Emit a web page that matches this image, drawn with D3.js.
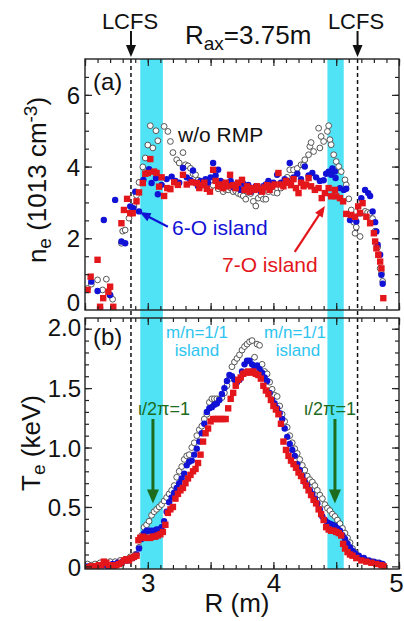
<!DOCTYPE html>
<html><head><meta charset="utf-8">
<script src="https://cdn.jsdelivr.net/npm/d3@7"></script>
<style>
html,body{margin:0;padding:0;background:#fff}
svg{display:block;font-family:"Liberation Sans",Arial,sans-serif}
</style>
</head><body>
<svg id="chart" width="404" height="621"></svg>
<script>
// Electron density profiles, [R (m), ne (1e13 cm^-3)]
const neNoRmp = [[2.52,0.60],[2.55,0.72],[2.60,0.84],[2.64,0.56],[2.67,0.86],[2.70,0.41],[2.72,0.30],[2.79,1.86],[2.80,2.20],[2.82,2.23],[2.85,2.56],[2.87,2.75],[2.89,2.90],[2.91,3.20],[2.93,3.56],[2.96,3.99],[2.98,4.24],[3.00,4.60],[3.02,5.14],[3.04,4.52],[3.065,5.00],[3.08,4.72],[3.13,5.12],[3.16,4.98],[3.18,4.70],[3.20,4.39],[3.23,4.19],[3.25,4.10],[3.28,4.39],[3.30,4.05],[3.32,4.02],[3.34,3.95],[3.36,3.80],[3.38,3.77],[3.40,3.62],[3.42,3.55],[3.44,3.50],[3.46,3.52],[3.48,3.45],[3.50,3.42],[3.52,3.48],[3.54,3.60],[3.56,3.38],[3.58,3.42],[3.60,3.30],[3.62,3.36],[3.64,3.35],[3.66,3.40],[3.68,3.30],[3.70,3.32],[3.72,3.25],[3.74,3.22],[3.76,3.18],[3.78,3.09],[3.80,3.28],[3.82,3.25],[3.84,3.03],[3.86,2.90],[3.88,3.12],[3.90,3.20],[3.92,3.09],[3.94,3.09],[3.96,3.30],[3.98,3.35],[4.00,3.28],[4.03,3.26],[4.06,3.40],[4.09,3.55],[4.11,3.70],[4.13,3.91],[4.16,3.91],[4.19,3.95],[4.22,4.05],[4.24,4.05],[4.25,4.19],[4.28,4.33],[4.29,4.56],[4.30,4.67],[4.32,4.42],[4.36,5.07],[4.37,4.52],[4.38,4.84],[4.40,4.70],[4.43,4.98],[4.44,5.14],[4.45,4.75],[4.46,4.61],[4.48,4.33],[4.50,4.14],[4.52,4.00],[4.54,3.86],[4.57,3.63],[4.58,3.49],[4.60,3.10],[4.62,2.79],[4.64,2.45],[4.65,2.14],[4.66,2.31],[4.69,2.05],[4.73,2.75],[4.75,2.72],[4.77,2.70],[4.79,2.55],[4.81,2.20],[4.83,1.75],[4.85,1.16],[4.86,1.02],[4.87,0.80]];
const ne6O = [[2.55,0.79],[2.60,0.53],[2.62,0.06],[2.70,0.42],[2.65,2.51],[2.74,3.07],[2.79,1.91],[2.82,1.86],[2.86,2.89],[2.885,2.84],[2.93,2.75],[2.90,3.30],[2.965,3.63],[3.01,3.93],[3.03,3.54],[3.065,3.68],[3.08,3.23],[3.11,3.49],[3.15,3.65],[3.19,3.72],[3.22,3.60],[3.25,3.55],[3.28,3.96],[3.31,3.70],[3.34,3.62],[3.36,3.89],[3.38,3.55],[3.40,3.45],[3.42,3.60],[3.44,3.52],[3.46,3.65],[3.48,3.55],[3.50,3.70],[3.52,4.10],[3.54,3.75],[3.56,3.91],[3.58,3.60],[3.60,3.50],[3.62,3.45],[3.64,3.55],[3.66,3.60],[3.68,3.42],[3.70,3.50],[3.72,3.40],[3.74,3.35],[3.76,3.52],[3.78,3.40],[3.80,3.49],[3.82,3.30],[3.84,3.38],[3.86,3.45],[3.88,3.40],[3.90,3.32],[3.92,3.45],[3.94,3.50],[3.96,3.60],[3.98,3.45],[4.00,3.55],[4.03,3.77],[4.06,3.55],[4.09,3.65],[4.11,3.60],[4.13,4.10],[4.16,3.70],[4.19,3.80],[4.22,3.65],[4.25,4.00],[4.28,3.75],[4.31,3.82],[4.34,3.70],[4.37,3.60],[4.40,3.62],[4.42,3.80],[4.44,3.86],[4.46,3.77],[4.47,3.95],[4.49,3.86],[4.495,3.68],[4.53,3.40],[4.56,3.35],[4.58,3.38],[4.61,2.51],[4.63,2.60],[4.66,2.47],[4.69,2.70],[4.70,3.12],[4.73,3.35],[4.755,3.26],[4.77,3.18],[4.79,2.75],[4.81,2.45],[4.82,2.19],[4.83,1.82],[4.85,1.54],[4.86,0.98],[4.87,0.73]];
const ne7O = [[2.52,0.56],[2.545,0.93],[2.60,1.40],[2.62,0.09],[2.645,0.33],[2.686,0.51],[2.70,0.65],[2.725,0.09],[2.79,2.42],[2.81,2.79],[2.835,3.10],[2.86,2.70],[2.88,2.70],[2.91,3.03],[2.93,3.28],[2.96,3.54],[2.98,3.80],[3.00,3.82],[3.02,4.21],[3.05,3.86],[3.07,3.82],[3.09,3.44],[3.11,3.70],[3.13,3.18],[3.155,3.40],[3.18,3.37],[3.21,3.56],[3.24,3.49],[3.28,3.77],[3.31,3.50],[3.35,3.56],[3.39,3.54],[3.41,3.40],[3.43,3.48],[3.45,3.55],[3.47,3.38],[3.495,3.30],[3.52,3.91],[3.54,3.60],[3.56,3.45],[3.58,3.50],[3.60,3.40],[3.62,3.55],[3.64,3.45],[3.655,3.77],[3.68,3.48],[3.70,3.40],[3.72,3.55],[3.75,3.63],[3.77,3.35],[3.79,3.45],[3.81,3.30],[3.83,3.40],[3.85,3.35],[3.87,3.45],[3.89,3.38],[3.91,3.30],[3.93,3.42],[3.95,3.48],[3.97,3.35],[3.99,3.45],[4.01,3.50],[4.04,3.82],[4.06,3.50],[4.08,3.45],[4.10,3.60],[4.12,3.55],[4.14,3.48],[4.16,3.65],[4.18,3.40],[4.20,3.26],[4.22,3.55],[4.24,3.45],[4.26,3.50],[4.28,3.68],[4.30,3.45],[4.33,3.35],[4.36,3.40],[4.385,3.12],[4.41,3.26],[4.44,3.40],[4.46,3.17],[4.49,3.35],[4.50,3.17],[4.53,3.12],[4.555,3.03],[4.58,2.68],[4.62,2.65],[4.65,2.60],[4.675,2.89],[4.69,2.70],[4.71,2.98],[4.74,2.60],[4.77,2.42],[4.80,2.14],[4.81,1.91],[4.82,1.72],[4.835,1.54],[4.85,1.35],[4.86,1.16],[4.875,0.33]];

// Electron temperature profiles, [R (m), Te (keV)]
const teNoRmp = [[2.52,0.02],[2.55,0.01],[2.58,0.02],[2.62,0.03],[2.66,0.03],[2.70,0.04],[2.74,0.04],[2.78,0.05],[2.82,0.06],[2.86,0.08],[2.90,0.10],[2.93,0.16],[2.95,0.26],[2.97,0.33],[2.99,0.35],[3.01,0.38],[3.03,0.43],[3.05,0.46],[3.07,0.48],[3.09,0.50],[3.11,0.52],[3.13,0.55],[3.15,0.58],[3.17,0.61],[3.19,0.64],[3.21,0.68],[3.23,0.75],[3.25,0.80],[3.27,0.84],[3.29,0.90],[3.31,0.93],[3.33,0.94],[3.35,1.00],[3.37,1.04],[3.39,1.10],[3.41,1.15],[3.43,1.18],[3.45,1.24],[3.47,1.28],[3.49,1.38],[3.51,1.41],[3.53,1.41],[3.55,1.41],[3.57,1.41],[3.59,1.42],[3.61,1.46],[3.63,1.52],[3.65,1.58],[3.67,1.68],[3.69,1.72],[3.71,1.75],[3.73,1.78],[3.75,1.82],[3.77,1.85],[3.79,1.87],[3.81,1.89],[3.83,1.90],[3.85,1.76],[3.87,1.87],[3.89,1.86],[3.91,1.70],[3.93,1.64],[3.95,1.62],[3.97,1.55],[3.99,1.49],[4.01,1.44],[4.03,1.43],[4.05,1.35],[4.07,1.28],[4.09,1.22],[4.11,1.17],[4.13,1.10],[4.15,1.04],[4.17,0.99],[4.19,0.95],[4.21,0.90],[4.23,0.85],[4.25,0.81],[4.27,0.76],[4.29,0.73],[4.31,0.71],[4.33,0.68],[4.35,0.64],[4.37,0.60],[4.39,0.57],[4.41,0.52],[4.43,0.49],[4.45,0.47],[4.47,0.44],[4.49,0.42],[4.51,0.39],[4.53,0.36],[4.55,0.32],[4.57,0.28],[4.59,0.24],[4.61,0.20],[4.63,0.15],[4.65,0.12],[4.67,0.09],[4.70,0.07],[4.74,0.05],[4.78,0.04],[4.82,0.03],[4.86,0.02]];
const te6O = [[2.52,0.00],[2.56,-0.01],[2.60,0.00],[2.64,0.01],[2.68,0.00],[2.72,0.02],[2.76,0.03],[2.80,0.04],[2.84,0.05],[2.88,0.07],[2.91,0.10],[2.93,0.15],[2.95,0.23],[2.97,0.28],[2.99,0.30],[3.01,0.30],[3.03,0.30],[3.05,0.30],[3.07,0.31],[3.09,0.31],[3.11,0.33],[3.13,0.38],[3.15,0.46],[3.17,0.54],[3.19,0.58],[3.21,0.62],[3.23,0.66],[3.25,0.70],[3.27,0.74],[3.29,0.78],[3.31,0.85],[3.33,0.88],[3.35,0.89],[3.37,0.94],[3.39,0.99],[3.41,1.05],[3.43,1.12],[3.45,1.20],[3.47,1.30],[3.49,1.33],[3.51,1.34],[3.53,1.36],[3.55,1.37],[3.57,1.40],[3.59,1.45],[3.61,1.50],[3.63,1.56],[3.65,1.61],[3.67,1.60],[3.69,1.57],[3.71,1.55],[3.73,1.57],[3.75,1.64],[3.77,1.70],[3.79,1.73],[3.81,1.73],[3.83,1.70],[3.85,1.68],[3.87,1.69],[3.89,1.66],[3.91,1.63],[3.93,1.59],[3.95,1.56],[3.97,1.46],[3.99,1.40],[4.01,1.37],[4.03,1.33],[4.05,1.29],[4.07,1.24],[4.09,1.16],[4.11,1.09],[4.13,1.03],[4.15,0.98],[4.17,0.93],[4.19,0.86],[4.21,0.81],[4.23,0.76],[4.25,0.71],[4.27,0.68],[4.29,0.64],[4.31,0.61],[4.33,0.57],[4.35,0.53],[4.37,0.48],[4.39,0.42],[4.41,0.39],[4.43,0.37],[4.45,0.36],[4.47,0.35],[4.49,0.34],[4.51,0.32],[4.53,0.30],[4.55,0.26],[4.57,0.23],[4.59,0.19],[4.61,0.16],[4.63,0.13],[4.65,0.11],[4.68,0.09],[4.72,0.07],[4.76,0.05],[4.80,0.04],[4.84,0.03],[4.87,0.02]];
const te7O = [[2.51,-0.01],[2.53,-0.01],[2.55,0.00],[2.57,0.00],[2.59,0.00],[2.61,0.01],[2.63,0.01],[2.65,0.04],[2.67,0.03],[2.69,0.01],[2.71,0.01],[2.73,0.00],[2.75,0.01],[2.77,0.02],[2.79,0.03],[2.81,0.05],[2.83,0.06],[2.85,0.05],[2.87,0.07],[2.89,0.08],[2.91,0.09],[2.925,0.22],[2.94,0.24],[2.96,0.25],[2.98,0.24],[3.00,0.24],[3.02,0.24],[3.04,0.25],[3.06,0.25],[3.08,0.26],[3.10,0.27],[3.12,0.29],[3.14,0.35],[3.16,0.45],[3.18,0.48],[3.20,0.50],[3.22,0.57],[3.24,0.61],[3.26,0.64],[3.28,0.66],[3.30,0.70],[3.32,0.74],[3.34,0.77],[3.36,0.80],[3.38,0.82],[3.40,0.87],[3.42,0.94],[3.44,1.05],[3.46,1.12],[3.48,1.16],[3.50,1.22],[3.52,1.24],[3.54,1.24],[3.56,1.24],[3.58,1.24],[3.60,1.24],[3.62,1.24],[3.64,1.33],[3.66,1.41],[3.68,1.46],[3.70,1.52],[3.72,1.57],[3.74,1.59],[3.76,1.62],[3.78,1.63],[3.80,1.64],[3.82,1.63],[3.84,1.64],[3.86,1.62],[3.88,1.61],[3.90,1.58],[3.92,1.52],[3.94,1.48],[3.96,1.45],[3.98,1.40],[4.00,1.35],[4.02,1.32],[4.04,1.28],[4.06,1.20],[4.08,1.05],[4.10,0.98],[4.12,0.93],[4.14,0.89],[4.16,0.86],[4.18,0.83],[4.20,0.79],[4.22,0.76],[4.24,0.72],[4.26,0.68],[4.28,0.64],[4.30,0.60],[4.32,0.56],[4.34,0.53],[4.36,0.48],[4.38,0.44],[4.40,0.39],[4.42,0.33],[4.44,0.31],[4.46,0.30],[4.48,0.30],[4.50,0.29],[4.52,0.28],[4.54,0.26],[4.555,0.19],[4.57,0.15],[4.59,0.12],[4.61,0.10],[4.63,0.09],[4.66,0.07],[4.70,0.05],[4.74,0.04],[4.78,0.03],[4.82,0.02],[4.86,0.01],[4.88,0.00]];

// Radial extent of the m/n=1/1 island regions and the last closed flux surface
const islandBands = [[2.94, 3.12], [4.43, 4.56]];
const lcfsR = [2.866, 4.67];

// Tick values and labels
const xTickLabels = [3, 4, 5];
const neTickLabels = [0, 2, 4, 6];
const teTickLabels = [0, 0.5, 1.0, 1.5, 2.0];

const svg = d3.select("#chart");
const FONT = '"Liberation Sans", Arial, sans-serif';

const x = d3.scaleLinear().domain([2.5, 5.0]).range([85, 399]);
const yA = d3.scaleLinear().domain([0, 7]).range([310, 59]);
const yB = d3.scaleLinear().domain([-0.022, 2.09]).range([569, 318]);

const colBand = "#4fe3f5", colBlue = "#1212d6", colRed = "#e3161c", colGreen = "#1d6b1d", colCyanText = "#2ec4f0";

// island bands span both panels
svg.append("g").selectAll("rect").data(islandBands).join("rect")
  .attr("x", d => x(d[0])).attr("width", d => x(d[1]) - x(d[0]))
  .attr("y", yA(7)).attr("height", yB(-0.022) - yA(7))
  .attr("fill", colBand);

// LCFS dashed lines
svg.append("g").selectAll("line").data(lcfsR).join("line")
  .attr("x1", d => x(d)).attr("x2", d => x(d))
  .attr("y1", yA(7)).attr("y2", yB(-0.022))
  .attr("stroke", "#111").attr("stroke-width", 1.5).attr("stroke-dasharray", "4,3");

function scatter(g, data, yScale, kind) {
  if (kind === "open") {
    g.selectAll("circle").data(data).join("circle")
      .attr("cx", d => x(d[0])).attr("cy", d => yScale(d[1])).attr("r", 2.9)
      .attr("fill", "#fff").attr("stroke", "#555").attr("stroke-width", 1);
  } else if (kind === "blue") {
    g.selectAll("circle").data(data).join("circle")
      .attr("cx", d => x(d[0])).attr("cy", d => yScale(d[1])).attr("r", 3.2)
      .attr("fill", colBlue);
  } else {
    const s = 6.4;
    g.selectAll("rect").data(data).join("rect")
      .attr("x", d => x(d[0]) - s / 2).attr("y", d => yScale(d[1]) - s / 2)
      .attr("width", s).attr("height", s).attr("fill", colRed);
  }
}

svg.append("clipPath").attr("id", "clipA").append("rect")
  .attr("x", x(2.5)).attr("y", yA(7)).attr("width", x(5) - x(2.5)).attr("height", yA(0) - yA(7));
svg.append("clipPath").attr("id", "clipB").append("rect")
  .attr("x", x(2.5)).attr("y", yB(2.09)).attr("width", x(5) - x(2.5)).attr("height", yB(-0.022) - yB(2.09));

const gA = svg.append("g").attr("clip-path", "url(#clipA)");
scatter(gA.append("g"), neNoRmp, yA, "open");
scatter(gA.append("g"), ne6O, yA, "blue");
scatter(gA.append("g"), ne7O, yA, "red");

const gB = svg.append("g").attr("clip-path", "url(#clipB)");
scatter(gB.append("g"), teNoRmp, yB, "open");
scatter(gB.append("g"), te6O, yB, "blue");
scatter(gB.append("g"), te7O, yB, "red");

// frames and inward ticks
function styleAxis(g) {
  g.select(".domain").remove();
  g.selectAll(".tick line").attr("stroke", "#222").attr("stroke-width", 1.2);
  g.selectAll(".tick text").remove();
}
const xMinor = d3.range(25, 51).map(v => v / 10);
const xMajor = [3, 4, 5, 2.5, 3.5, 4.5];
function panelFrame(yScale, yMinor, yMajor) {
  const [y0, y1] = yScale.range();
  const g = svg.append("g");
  g.append("g").attr("transform", `translate(0,${y0})`).call(d3.axisBottom(x).tickValues(xMinor).tickSize(-4)).call(styleAxis);
  g.append("g").attr("transform", `translate(0,${y0})`).call(d3.axisBottom(x).tickValues(xMajor).tickSize(-7)).call(styleAxis);
  g.append("g").attr("transform", `translate(0,${y1})`).call(d3.axisTop(x).tickValues(xMinor).tickSize(-4)).call(styleAxis);
  g.append("g").attr("transform", `translate(0,${y1})`).call(d3.axisTop(x).tickValues(xMajor).tickSize(-7)).call(styleAxis);
  g.append("g").attr("transform", `translate(${x(2.5)},0)`).call(d3.axisLeft(yScale).tickValues(yMinor).tickSize(-4)).call(styleAxis);
  g.append("g").attr("transform", `translate(${x(2.5)},0)`).call(d3.axisLeft(yScale).tickValues(yMajor).tickSize(-7)).call(styleAxis);
  g.append("g").attr("transform", `translate(${x(5)},0)`).call(d3.axisRight(yScale).tickValues(yMinor).tickSize(-4)).call(styleAxis);
  g.append("g").attr("transform", `translate(${x(5)},0)`).call(d3.axisRight(yScale).tickValues(yMajor).tickSize(-7)).call(styleAxis);
  g.append("rect").attr("x", x(2.5)).attr("y", y1).attr("width", x(5) - x(2.5)).attr("height", y0 - y1)
    .attr("fill", "none").attr("stroke", "#222").attr("stroke-width", 1.4);
}
panelFrame(yA, d3.range(1, 14).map(v => v / 2), [2, 4, 6]);
panelFrame(yB, d3.range(1, 21).map(v => v / 10), [0, 0.5, 1.0, 1.5, 2.0]);

// tick labels
function labelAxis(axis, fmt, size) {
  return g => {
    g.call(axis.tickFormat(fmt).tickSize(0).tickPadding(0));
    g.select(".domain").remove();
    g.selectAll(".tick line").remove();
    g.selectAll(".tick text").attr("font-family", FONT).attr("font-size", size).attr("fill", "#111");
  };
}
// the bottom "0" of the density axis sits just above its tick, clear of the lower panel
svg.append("g").attr("transform", `translate(80,0)`)
  .call(labelAxis(d3.axisLeft(yA).tickValues(neTickLabels), d => d, 24))
  .selectAll(".tick text").attr("dy", d => d === 0 ? "0em" : "0.36em").attr("x", 0);
svg.append("g").attr("transform", `translate(81,0)`)
  .call(labelAxis(d3.axisLeft(yB).tickValues(teTickLabels), d => d === 0 ? "0" : d3.format(".1f")(d), 24))
  .selectAll(".tick text").attr("dy", d => d === 2 ? "0.3em" : "0.36em").attr("x", 0);
svg.append("g").attr("transform", `translate(0,574)`)
  .call(labelAxis(d3.axisBottom(x).tickValues(xTickLabels), d => d, 26))
  .selectAll(".tick text").attr("dy", "0.71em").attr("y", 0)
  .attr("dx", d => d === 5 ? -3 : 0);

// axis titles
function t(g, x0, y0, size, fill) {
  return g.append("text").attr("x", x0).attr("y", y0).attr("font-family", FONT).attr("font-size", size).attr("fill", fill || "#111");
}
const titleA = svg.append("text").attr("transform", "translate(46,180) rotate(-90)")
  .attr("text-anchor", "middle").attr("font-family", FONT).attr("font-size", 26).attr("fill", "#111");
titleA.append("tspan").text("n");
titleA.append("tspan").attr("font-size", 19).attr("dy", 5).text("e");
titleA.append("tspan").attr("dy", -5).text(" (1013 cm");
titleA.append("tspan").attr("font-size", 19).attr("dy", -9).text("-3");
titleA.append("tspan").attr("dy", 9).text(")");

const titleB = svg.append("text").attr("transform", "translate(40,443) rotate(-90)")
  .attr("text-anchor", "middle").attr("font-family", FONT).attr("font-size", 26).attr("fill", "#111");
titleB.append("tspan").text("T");
titleB.append("tspan").attr("font-size", 19).attr("dy", 5).text("e");
titleB.append("tspan").attr("dy", -5).text(" (keV)");

t(svg, 237, 612, 26).attr("text-anchor", "middle").text("R (m)");

// panel tags
t(svg, 93, 90, 24).text("(a)");
t(svg, 93, 345, 24).text("(b)");

// header
t(svg, 130, 29, 22).attr("text-anchor", "middle").text("LCFS");
t(svg, 356, 29, 22).attr("text-anchor", "middle").text("LCFS");
const rax = t(svg, 185, 44, 26);
rax.append("tspan").text("R");
rax.append("tspan").attr("font-size", 19).attr("dy", 6).text("ax");
rax.append("tspan").attr("dy", -6).text("=3.75m");

// arrows
function arrow(x1, y1, x2, y2, color, w, L, W) {
  const dx = x2 - x1, dy = y2 - y1, len = Math.hypot(dx, dy);
  const ux = dx / len, uy = dy / len;
  const bx = x2 - ux * L, by = y2 - uy * L;
  svg.append("line").attr("x1", x1).attr("y1", y1).attr("x2", bx + ux).attr("y2", by + uy)
    .attr("stroke", color).attr("stroke-width", w);
  svg.append("polygon")
    .attr("points", [[x2, y2], [bx - uy * W / 2, by + ux * W / 2], [bx + uy * W / 2, by - ux * W / 2]].map(p => p.join(",")).join(" "))
    .attr("fill", color);
}
lcfsR.forEach(r => arrow(x(r), 31, x(r), 57, "#111", 2, 12, 10));

// panel (a) annotations
t(svg, 178, 142, 21).text("w/o RMP");
t(svg, 172, 235, 21, colBlue).text("6-O island");
arrow(x(3.16), yA(2.32), x(2.935), yA(2.73), colBlue, 2.2, 11, 9);
t(svg, 222, 272, 21, colRed).text("7-O island");
arrow(x(4.17), yA(1.62), x(4.41), yA(2.90), colRed, 2.2, 11, 9);

// panel (b) annotations
t(svg, 197, 338, 17, colCyanText).attr("text-anchor", "middle").text("m/n=1/1");
t(svg, 197, 356, 17, colCyanText).attr("text-anchor", "middle").text("island");
t(svg, 295, 338, 17, colCyanText).attr("text-anchor", "middle").text("m/n=1/1");
t(svg, 298, 356, 17, colCyanText).attr("text-anchor", "middle").text("island");
t(svg, 164, 415, 18, colGreen).attr("text-anchor", "middle").text("ι/2π=1");
t(svg, 330, 415, 18, colGreen).attr("text-anchor", "middle").text("ι/2π=1");
arrow(x(3.041), yB(1.24), x(3.041), yB(0.53), colGreen, 3, 14, 12);
arrow(x(4.49), yB(1.24), x(4.49), yB(0.53), colGreen, 3, 14, 12);
</script>
</body></html>
